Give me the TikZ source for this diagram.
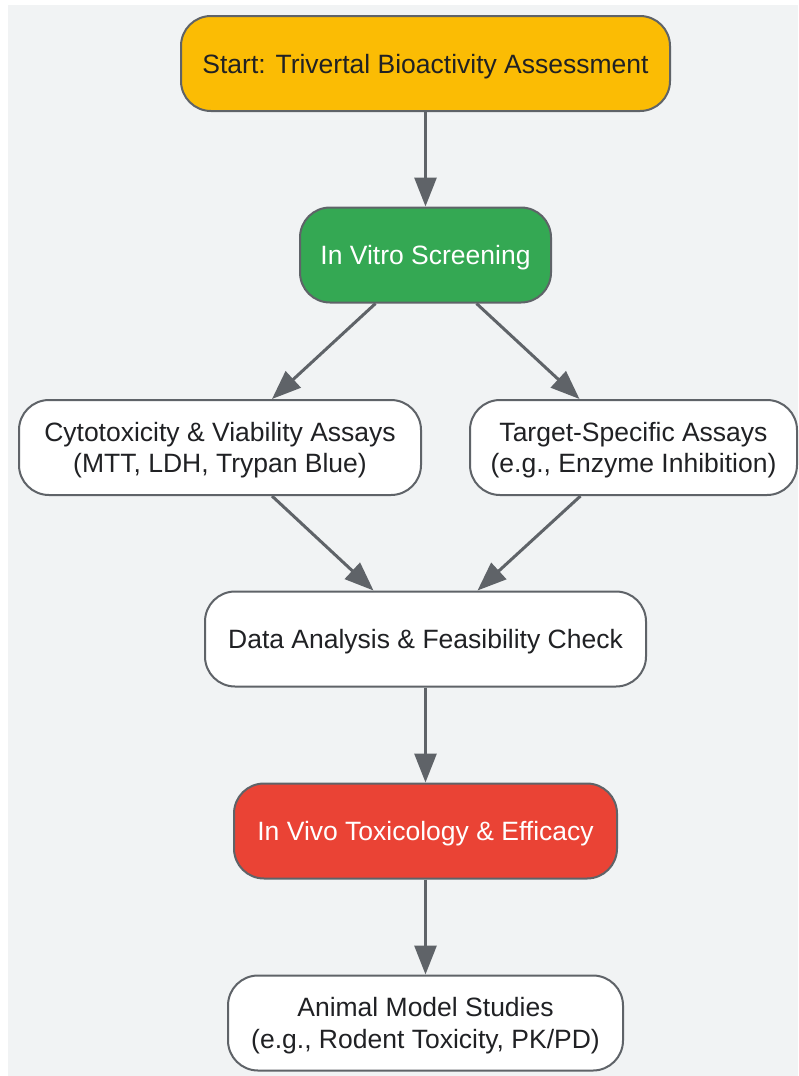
\documentclass[tikz,border=0pt]{standalone}
\usepackage{fontspec}
\setmainfont{Liberation Sans}
\usetikzlibrary{arrows.meta}
\definecolor{bgc}{HTML}{F1F3F4}
\definecolor{edgec}{HTML}{5F6368}
\definecolor{txtc}{HTML}{202124}
\definecolor{yel}{HTML}{FBBC04}
\definecolor{grn}{HTML}{34A853}
\definecolor{redc}{HTML}{EA4335}
\tikzset{
  box/.style={draw=edgec, line width=2pt, rounded corners=30pt, fill=white,
    text=txtc, align=center, inner sep=0pt, minimum height=95pt, text depth=0pt,
    font=\fontsize{26.5}{31.5}\selectfont},
  conn/.style={draw=edgec, line width=3pt, -{Triangle[length=29pt,width=22pt]}},
}
\begin{document}
\begin{tikzpicture}[x=1pt,y=-1pt]
\useasboundingbox (0,0) rectangle (798,1076);
\fill[bgc] (8,5) rectangle (798,1076);
\node[box, fill=yel, minimum width=489pt] (start) at (425.5,63.5) {Start: Trivertal Bioactivity Assessment};
\node[box, fill=grn, text=white, minimum width=251pt] (vitro) at (425.5,255) {In Vitro Screening};
\node[box, minimum width=402pt] (cyto) at (220,447.5) {Cytotoxicity \& Viability Assays\\(MTT, LDH, Trypan Blue)};
\node[box, minimum width=327pt] (target) at (633.5,447.5) {Target-Specific Assays\\(e.g., Enzyme Inhibition)};
\node[box, minimum width=441pt] (data) at (425.5,639) {Data Analysis \& Feasibility Check};
\node[box, fill=redc, text=white, minimum width=383pt] (vivo) at (425.5,831) {In Vivo Toxicology \& Efficacy};
\node[box, minimum width=395pt] (animal) at (425.5,1023) {Animal Model Studies\\(e.g., Rodent Toxicity, PK/PD)};
\draw[conn] (start.south) -- (vitro.north);
\draw[conn] ([xshift=-50pt]vitro.south) -- ([xshift=52pt]cyto.north);
\draw[conn] ([xshift=51pt]vitro.south) -- ([xshift=-54pt]target.north);
\draw[conn] ([xshift=52pt]cyto.south) -- ([xshift=-52pt]data.north);
\draw[conn] ([xshift=-53pt]target.south) -- ([xshift=52pt]data.north);
\draw[conn] (data.south) -- (vivo.north);
\draw[conn] (vivo.south) -- (animal.north);
\end{tikzpicture}
\end{document}
